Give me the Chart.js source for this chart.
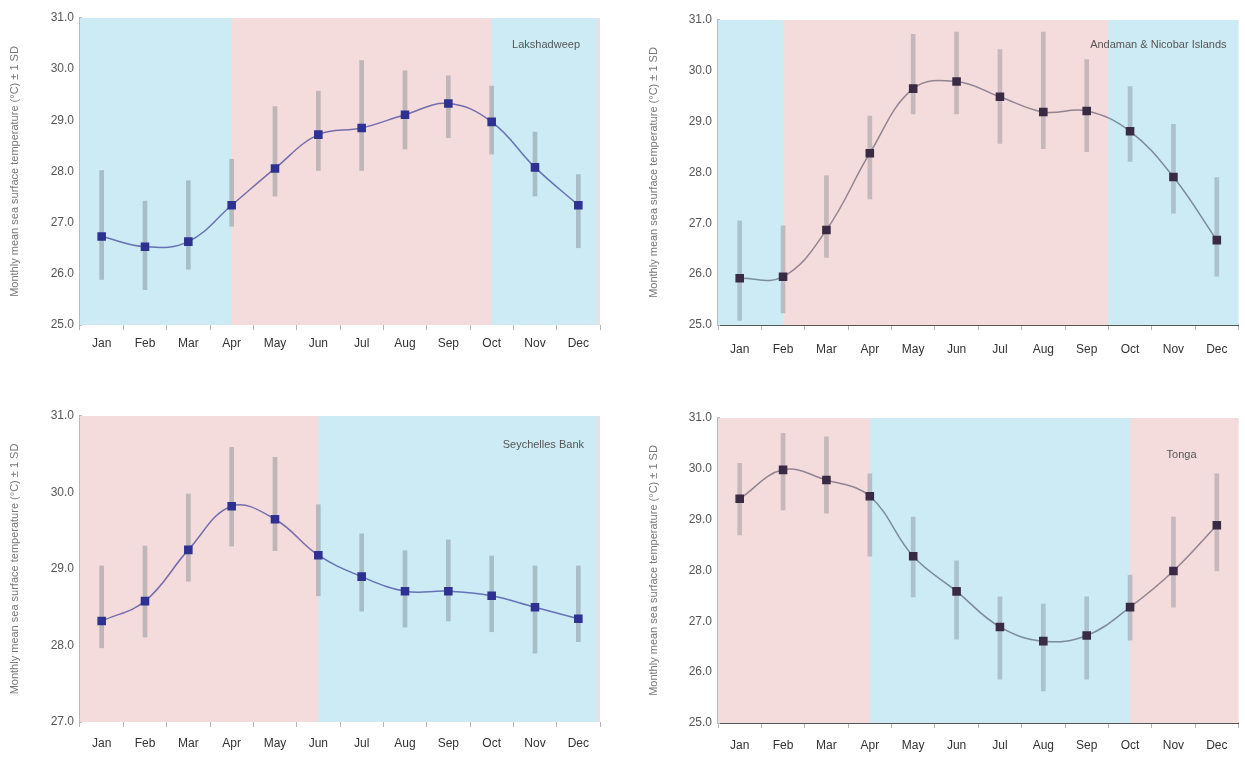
<!DOCTYPE html>
<html>
<head>
<meta charset="utf-8">
<script src="https://cdn.jsdelivr.net/npm/chart.js@4.4.1/dist/chart.umd.min.js"></script>
<style>
  body { margin: 0; background: #fff; width: 1245px; height: 758px; overflow: hidden; position: relative; }
  canvas { position: absolute; }
  #c2, #c4 { filter: blur(0.6px); }
</style>
</head>
<body>
<canvas id="c1" width="610" height="360" style="left:0;top:0"></canvas>
<canvas id="c2" width="620" height="360" style="left:625px;top:0"></canvas>
<canvas id="c3" width="610" height="368" style="left:0;top:390px"></canvas>
<canvas id="c4" width="620" height="368" style="left:625px;top:390px"></canvas>
<script>
const months = ["Jan", "Feb", "Mar", "Apr", "May", "Jun", "Jul", "Aug", "Sep", "Oct", "Nov", "Dec"];
const yTitle = "Monthly mean sea surface temperature (°C) ± 1 SD";

// top left
const tlName = "Lakshadweep";
const tlMean = [26.73, 26.53, 26.63, 27.34, 28.06, 28.72, 28.85, 29.11, 29.33, 28.97, 28.08, 27.34];
const tlLow  = [25.89, 25.69, 26.09, 26.93, 27.52, 28.02, 28.02, 28.44, 28.66, 28.34, 27.52, 26.51];
const tlHigh = [28.02, 27.42, 27.82, 28.24, 29.27, 29.57, 30.17, 29.97, 29.87, 29.67, 28.77, 27.94];
const tlSeasons = [[-0.5, 3, "cool"], [3, 9, "warm"], [9, 11.4, "cool"]];

// top right
const trName = "Andaman & Nicobar Islands";
const trMean = [25.92, 25.95, 26.87, 28.38, 29.65, 29.79, 29.49, 29.19, 29.21, 28.81, 27.91, 26.67];
const trLow  = [25.09, 25.24, 26.33, 27.48, 29.15, 29.15, 28.57, 28.47, 28.41, 28.22, 27.20, 25.96];
const trHigh = [27.05, 26.95, 27.94, 29.11, 30.72, 30.76, 30.42, 30.76, 30.22, 29.69, 28.95, 27.90];
const trSeasons = [[-0.5, 1, "cool"], [1, 8.5, "warm"], [8.5, 11.5, "cool"]];

// bottom left
const blName = "Seychelles Bank";
const blMean = [28.32, 28.58, 29.25, 29.82, 29.65, 29.18, 28.90, 28.71, 28.71, 28.65, 28.50, 28.35];
const blLow  = [27.97, 28.11, 28.84, 29.30, 29.24, 28.65, 28.45, 28.24, 28.32, 28.18, 27.90, 28.05];
const blHigh = [29.04, 29.30, 29.98, 30.59, 30.46, 29.84, 29.46, 29.24, 29.38, 29.17, 29.04, 29.04];
const blSeasons = [[-0.5, 5, "warm"], [5, 11.4, "cool"]];

// bottom right
const brName = "Tonga";
const brMean = [29.41, 29.98, 29.78, 29.46, 28.28, 27.59, 26.89, 26.61, 26.72, 27.28, 27.99, 28.89];
const brLow  = [28.70, 29.19, 29.13, 28.28, 27.48, 26.65, 25.86, 25.63, 25.86, 26.63, 27.28, 27.99];
const brHigh = [30.11, 30.70, 30.63, 29.90, 29.05, 28.19, 27.48, 27.34, 27.48, 27.91, 29.05, 29.90];
const brSeasons = [[-0.5, 3, "warm"], [3, 9, "cool"], [9, 11.5, "warm"]];

const seasonColor = { cool: "#cdebf4", warm: "#f5dcdc" };
const font = "'Liberation Sans', Arial, sans-serif";

const bandPlugin = {
  id: "bands",
  beforeDatasetsDraw(chart, args, opts) {
    const { ctx, chartArea: a, scales: { x } } = chart;
    ctx.save();
    ctx.fillStyle = "#dfe4e6";
    ctx.fillRect(a.left, a.top, a.right - a.left, a.bottom - a.top);
    opts.seasons.forEach(([from, to, kind]) => {
      const x0 = Math.max(a.left, x.getPixelForValue(from));
      const x1 = Math.min(a.right, x.getPixelForValue(to));
      ctx.fillStyle = seasonColor[kind];
      ctx.fillRect(x0, a.top, x1 - x0, a.bottom - a.top);
    });
    ctx.restore();
  },
  afterDraw(chart, args, opts) {
    const { ctx, chartArea: a } = chart;
    ctx.save();
    ctx.font = "11px " + font;
    ctx.fillStyle = "#555";
    ctx.textAlign = "right";
    ctx.fillText(opts.name, a.right - opts.nx, a.top + opts.ny);
    ctx.restore();
  }
};

function makeChart(id, o) {
  new Chart(document.getElementById(id), {
    type: "bar",
    data: {
      labels: months,
      datasets: [
        {
          type: "line",
          data: o.mean,
          borderColor: o.line,
          borderWidth: 1.5,
          tension: 0.4,
          pointStyle: "rect",
          pointRadius: 5,
          pointBackgroundColor: o.point,
          pointBorderColor: o.point,
          order: 0
        },
        {
          data: o.low.map((l, i) => [l, o.high[i]]),
          backgroundColor: o.bar,
          barThickness: 4,
          order: 1
        }
      ]
    },
    options: {
      responsive: false,
      animation: false,
      layout: { padding: o.pad },
      plugins: {
        legend: { display: false },
        tooltip: { enabled: false },
        bands: { seasons: o.seasons, name: o.name, nx: o.nx, ny: o.ny }
      },
      scales: {
        x: {
          offset: true,
          grid: { offset: true, drawOnChartArea: false, tickLength: 5, color: "#b5b5b5" },
          border: { display: o.xBorder, color: "#555", width: 2 },
          ticks: { color: "#333", padding: o.xpad, font: { size: 12, family: font } },
          afterFit: s => { s.height = o.xh; }
        },
        y: {
          min: o.min,
          max: o.max,
          ticks: {
            stepSize: 1,
            color: "#555",
            padding: 6,
            font: { size: 12, family: font },
            callback: v => v.toFixed(1)
          },
          grid: { drawOnChartArea: false, drawTicks: false },
          border: { color: "#b5bcc0", width: 3 },
          title: { display: true, text: yTitle, color: "#777", font: { size: 11, family: font }, padding: 0 },
          afterFit: s => { s.width = o.yw; }
        }
      }
    },
    plugins: [bandPlugin]
  });
}

const leftStyle = { line: "rgba(46,49,146,0.65)", point: "#2e3192", bar: "rgba(115,128,135,0.42)", xBorder: false };
const rightStyle = { line: "rgba(45,45,70,0.5)", point: "#3a2b44", bar: "rgba(110,115,125,0.35)", xBorder: true };

makeChart("c1", Object.assign({}, leftStyle, {
  name: tlName, mean: tlMean, low: tlLow, high: tlHigh, seasons: tlSeasons,
  min: 25, max: 31, pad: { top: 18, right: 10, left: 8, bottom: 0 }, yw: 72, xh: 35, xpad: 6, nx: 20, ny: 30
}));
makeChart("c2", Object.assign({}, rightStyle, {
  name: trName, mean: trMean, low: trLow, high: trHigh, seasons: trSeasons,
  min: 25, max: 31, pad: { top: 20, right: 3, left: 22, bottom: 0 }, yw: 71, xh: 35, xpad: 12, nx: 12, ny: 28
}));
makeChart("c3", Object.assign({}, leftStyle, {
  name: blName, mean: blMean, low: blLow, high: blHigh, seasons: blSeasons,
  min: 27, max: 31, pad: { top: 26, right: 10, left: 8, bottom: 0 }, yw: 72, xh: 36, xpad: 9, nx: 16, ny: 32
}));
makeChart("c4", Object.assign({}, rightStyle, {
  name: brName, mean: brMean, low: brLow, high: brHigh, seasons: brSeasons,
  min: 25, max: 31, pad: { top: 28, right: 3, left: 22, bottom: 0 }, yw: 71, xh: 35, xpad: 10, nx: 42, ny: 40
}));
</script>
</body>
</html>
